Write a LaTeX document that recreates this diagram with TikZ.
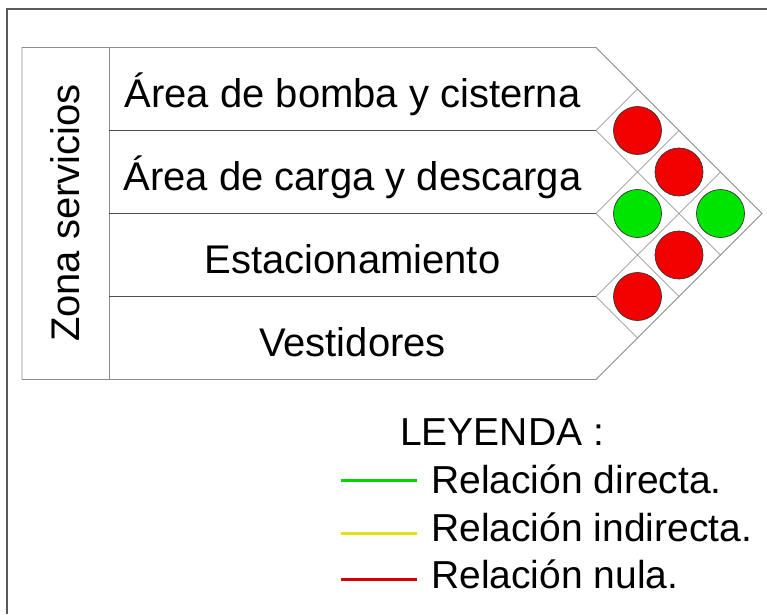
\documentclass[tikz,border=0pt]{standalone}
\usepackage{fontspec}
\setmainfont{Liberation Sans}
\begin{document}
\begin{tikzpicture}[x=1pt,y=-1pt,
  frameline/.style={draw=black!65,line width=1.6pt},
  tableline/.style={draw=black!45,line width=0.9pt},
  rowline/.style={draw=black!70,line width=0.9pt},
  gridline/.style={draw=black!50,line width=0.6pt},
  rowtext/.style={anchor=base,inner sep=0pt,font=\fontsize{40}{48}\selectfont},
  legtext/.style={anchor=base west,inner sep=0pt,font=\fontsize{39}{46}\selectfont},
  dot/.style={circle,draw=black!80,line width=0.7pt,minimum size=48pt,inner sep=0pt},
  reddot/.style={dot,fill=red!95!black},
  greendot/.style={dot,fill=green!90!black},
  legline/.style={line width=3pt}
]
\useasboundingbox (0,0) rectangle (767,614);
\fill[white] (0,0) rectangle (767,614);
% outer frame (cropped at right and bottom)
\coordinate (fTR) at (767,9);
\coordinate (fTL) at (7,9);
\coordinate (fBL) at (7,614);
\draw[frameline] (fTR) -- (fTL) -- (fBL);

% table geometry
\coordinate (tTL) at (22,47.5);
\coordinate (tBL) at (22,379.5);
\coordinate (zT) at (109,47.5);
\coordinate (zB) at (109,379.5);
\coordinate (cT) at (596,47.5);
\coordinate (cB) at (596,379.5);
\coordinate (tip) at (762,213.5);
\coordinate (r1L) at (109,130.5);
\coordinate (r2L) at (109,213.5);
\coordinate (r3L) at (109,296.5);
\coordinate (r1R) at (596,130.5);
\coordinate (r2R) at (596,213.5);
\coordinate (r3R) at (596,296.5);

\draw[tableline] (tTL) -- (cT) -- (tip) -- (cB) -- (tBL) -- cycle;
\draw[tableline] (zT) -- (zB);
\draw[rowline] (r1L) -- (r1R);
\draw[rowline] (r2L) -- (r2R);
\draw[rowline] (r3L) -- (r3R);

% diamond grid
\coordinate (d1a) at (720.5,255);
\coordinate (d2a) at (679,296.5);
\coordinate (d3a) at (637.5,338);
\coordinate (u1a) at (637.5,89);
\coordinate (u2a) at (679,130.5);
\coordinate (u3a) at (720.5,172);
\draw[gridline] (r1R) -- (d1a);
\draw[gridline] (r2R) -- (d2a);
\draw[gridline] (r3R) -- (d3a);
\draw[gridline] (r1R) -- (u1a);
\draw[gridline] (r2R) -- (u2a);
\draw[gridline] (r3R) -- (u3a);

% relation dots
\node[reddot]   (c12) at (637.5,130.5) {};
\node[greendot] (c23) at (637.5,213.5) {};
\node[reddot]   (c34) at (637.5,296.5) {};
\node[reddot]   (c13) at (679,172) {};
\node[reddot]   (c24) at (679,255) {};
\node[greendot] (c14) at (720.5,213.5) {};

% texts
\node[rowtext,rotate=90] (zona) at (79,213) {Zona servicios};
\node[rowtext] (t1) at (352.5,107.5) {Área de bomba y cisterna};
\node[rowtext] (t2) at (352.5,190.5) {Área de carga y descarga};
\node[rowtext] (t3) at (352.5,273.5) {Estacionamiento};
\node[rowtext] (t4) at (352.5,356.5) {Vestidores};

% legend
\node[legtext] (ley) at (400,445) {LEYENDA :};
\node[legtext] (l1) at (431,493) {Relación directa.};
\node[legtext] (l2) at (431,541.5) {Relación indirecta.};
\node[legtext] (l3) at (431,588.5) {Relación nula.};
\coordinate (g1) at (340.5,480);
\coordinate (g2) at (417,480);
\coordinate (y1) at (340.5,533.5);
\coordinate (y2) at (417,533.5);
\coordinate (q1) at (340.5,579);
\coordinate (q2) at (417,579);
\draw[legline,draw=green!85!black] (g1) -- (g2);
\draw[legline,draw=yellow!90!black] (y1) -- (y2);
\draw[legline,draw=red!85!black] (q1) -- (q2);
\end{tikzpicture}
\end{document}
